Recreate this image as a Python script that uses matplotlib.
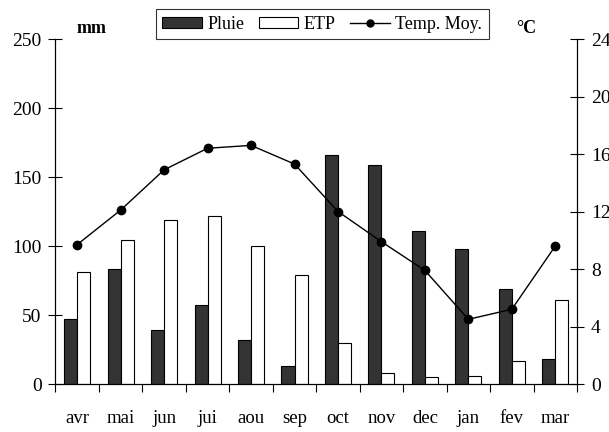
import numpy as np
import matplotlib.pyplot as plt
from matplotlib.patches import Patch
from matplotlib.lines import Line2D

plt.rcParams['font.family'] = ['Liberation Serif', 'DejaVu Serif']

months = ['avr', 'mai', 'jun', 'jui', 'aou', 'sep', 'oct', 'nov', 'dec', 'jan', 'fev', 'mar']
pluie = [47, 83, 39, 57, 32, 13, 166, 159, 111, 98, 69, 18]
etp = [81, 104, 119, 122, 100, 79, 30, 8, 5, 6, 17, 61]
temp = [9.7, 12.1, 14.9, 16.4, 16.6, 15.3, 12.0, 9.9, 7.9, 4.5, 5.2, 9.6]

fig = plt.figure(figsize=(6.09, 4.32), dpi=100)
ax = fig.add_axes([0.0911, 0.1111, 0.8564, 0.7986])

x = np.arange(len(months))
w = 0.3
ax.bar(x - w/2, pluie, w, color='#333333', edgecolor='black', linewidth=0.8)
ax.bar(x + w/2, etp, w, color='white', edgecolor='black', linewidth=0.8)

ax.set_xlim(-0.5, len(months) - 0.5)
ax.set_ylim(0, 250)
ax.set_yticks(np.arange(0, 251, 50))
ax.set_xticks(x)
ax.set_xticklabels(months)
ax.set_xticks(np.arange(-0.5, len(months), 1), minor=True)
ax.tick_params(axis='x', which='major', length=0, pad=19, labelsize=13.5)
ax.tick_params(axis='x', which='minor', length=6, direction='out', width=0.8)
ax.tick_params(axis='y', direction='inout', length=10, width=0.8, pad=5, labelsize=14)
ax.spines['top'].set_visible(False)
for s in ax.spines.values():
    s.set_linewidth(0.8)

ax2 = ax.twinx()
ax2.plot(x, temp, color='black', marker='o', markersize=6, linewidth=1.0)
ax2.set_ylim(0, 24)
ax2.set_yticks(np.arange(0, 25, 4))
ax2.tick_params(axis='y', direction='inout', length=10, width=0.8, pad=5, labelsize=14)
ax2.spines['top'].set_visible(False)
for s in ax2.spines.values():
    s.set_linewidth(0.8)

fig.text(0.125, 0.935, 'mm', fontsize=13, fontweight='bold', ha='left', va='center')
fig.text(0.848, 0.935, '°C', fontsize=13, fontweight='bold', ha='left', va='center')

handles = [Patch(facecolor='#333333', edgecolor='black', linewidth=0.8),
           Patch(facecolor='white', edgecolor='black', linewidth=0.8),
           Line2D([0], [0], color='black', marker='o', markersize=5, linewidth=1.0)]
leg = fig.legend(handles, ['Pluie', 'ETP', 'Temp. Moy.'], ncol=3, loc='center',
                 bbox_to_anchor=(0.529, 0.944), fontsize=13, frameon=True, fancybox=False,
                 edgecolor='black', handlelength=2.2, handleheight=0.6, handletextpad=0.3,
                 columnspacing=0.8, borderpad=0.35)
leg.get_frame().set_linewidth(0.8)

fig.savefig('out.png', dpi=100)
